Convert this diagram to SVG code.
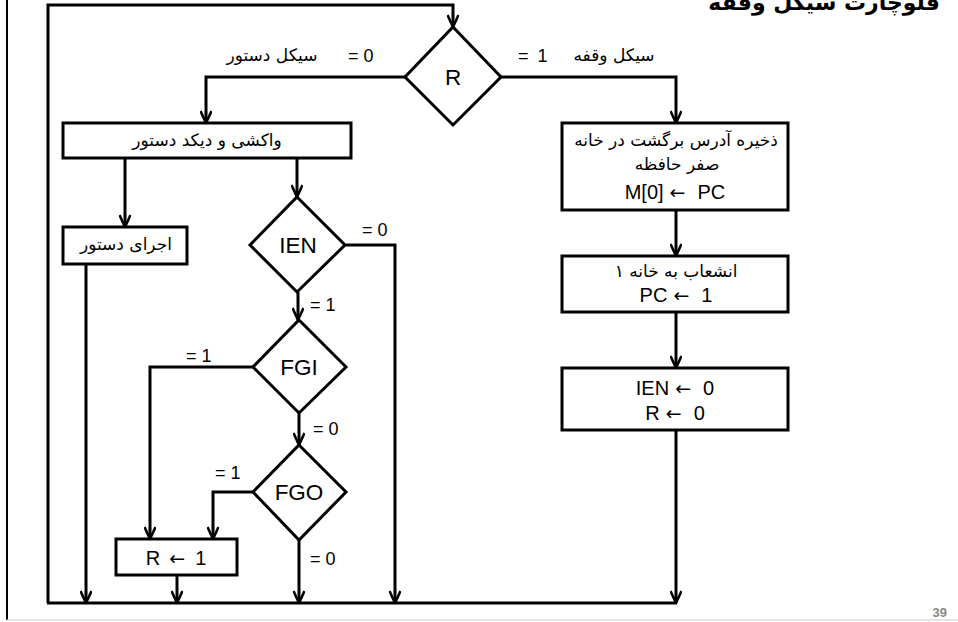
<svg xmlns="http://www.w3.org/2000/svg" width="958" height="622" viewBox="0 0 958 622">
<style>
.ln{fill:none;stroke:#000;stroke-width:3;stroke-linejoin:miter}
.ar{marker-end:url(#arr)}
.bx{fill:#fff;stroke:#000;stroke-width:3}
.t{font-family:"Liberation Sans","DejaVu Sans",sans-serif;fill:#000;text-anchor:middle}
.fa{font-family:"DejaVu Sans","Liberation Sans",sans-serif;fill:#000;text-anchor:middle;font-size:17px}
.lb{font-family:"Liberation Sans",sans-serif;font-size:18px;fill:#000}
.dg{font-size:22.5px}
.bt{font-size:20px}
.aw{font-family:"DejaVu Sans",sans-serif;font-size:19px}
</style>
<defs>
<marker id="arr" viewBox="0 0 14 12" refX="13" refY="6" markerWidth="14" markerHeight="12" markerUnits="userSpaceOnUse" orient="auto">
<path d="M1,0.5 L13,6 L1,11.5" fill="none" stroke="#000" stroke-width="2.6"/>
</marker>
</defs>
<rect width="958" height="622" fill="#fff"/>
<g id="frame">
<line x1="7" y1="0" x2="7" y2="620" stroke="#000" stroke-width="2"/>
<line x1="7" y1="620" x2="958" y2="620" stroke="#ddd" stroke-width="1.5"/>
<text x="940" y="10" font-family="DejaVu Sans,sans-serif" font-weight="bold" font-size="22" text-anchor="end">فلوچارت سیکل وقفه</text>
<text x="947" y="617" font-family="Liberation Sans,sans-serif" font-weight="bold" font-size="13" fill="#888" text-anchor="end">39</text>
</g>
<g id="connectors">
<path class="ln ar" d="M48,603 V5 H453 V27"/>
<path class="ln ar" d="M405,77 H206 V123"/>
<path class="ln ar" d="M500,77 H676 V123"/>
<path class="ln ar" d="M676,210 V256"/>
<path class="ln ar" d="M676,312 V368"/>
<path class="ln ar" d="M676,430 V603"/>
<path class="ln ar" d="M125,158 V227"/>
<path class="ln ar" d="M86,264 V603"/>
<path class="ln ar" d="M297,158 V197"/>
<path class="ln ar" d="M346,245 H395 V603"/>
<path class="ln ar" d="M298,292 V320"/>
<path class="ln ar" d="M253,367 H150 V539"/>
<path class="ln ar" d="M299,413 V445"/>
<path class="ln ar" d="M253,492 H213 V539"/>
<path class="ln ar" d="M299,540 V603"/>
<path class="ln ar" d="M177,575 V603"/>
<path class="ln" d="M47,603 H677"/>
<text class="lb" x="348" y="62">= 0</text>
<text class="fa" x="272" y="61">سیکل دستور</text>
<text class="lb" x="518" y="62">=<tspan dx="9">1</tspan></text>
<text class="fa" x="614" y="61">سیکل وقفه</text>
<text class="lb" x="362" y="236">= 0</text>
<text class="lb" x="310" y="311">= 1</text>
<text class="lb" x="186" y="362">= 1</text>
<text class="lb" x="313" y="435">= 0</text>
<text class="lb" x="215" y="479">= 1</text>
<text class="lb" x="310" y="565">= 0</text>
</g>
<g id="R">
<polygon class="bx" points="453,27 501,77 453,125 405,77"/>
<text class="t dg" x="453" y="85">R</text>
</g>
<g id="fetch">
<rect class="bx" x="63" y="123" width="288" height="35"/>
<text class="fa" x="207" y="146">واکشی و دیکد دستور</text>
</g>
<g id="exec">
<rect class="bx" x="63" y="227" width="124" height="37"/>
<text class="fa" x="126" y="250">اجرای دستور</text>
</g>
<g id="IEN">
<polygon class="bx" points="297,197 345,245 297,292 250,245"/>
<text class="t dg" x="298" y="253">IEN</text>
</g>
<g id="FGI">
<polygon class="bx" points="299,320 346,367 299,413 253,367"/>
<text class="t dg" x="299" y="375">FGI</text>
</g>
<g id="FGO">
<polygon class="bx" points="299,445 346,492 299,540 253,492"/>
<text class="t dg" x="299" y="500">FGO</text>
</g>
<g id="R1">
<rect class="bx" x="116" y="539" width="121" height="36"/>
<text class="t bt" x="176" y="565">R<tspan class="aw" dx="9">←</tspan><tspan dx="10">1</tspan></text>
</g>
<g id="save">
<rect class="bx" x="562" y="123" width="226" height="87"/>
<text class="fa" x="676" y="146">ذخیره آدرس برگشت در خانه</text>
<text class="fa" x="677" y="170">صفر حافظه</text>
<text class="t bt" x="675" y="199">M[0]<tspan class="aw" dx="6">←</tspan><tspan dx="12">PC</tspan></text>
</g>
<g id="branch">
<rect class="bx" x="562" y="256" width="226" height="56"/>
<text class="fa" x="676" y="277">انشعاب به خانه ۱</text>
<text class="t bt" x="676" y="302">PC<tspan class="aw" dx="6">←</tspan><tspan dx="12">1</tspan></text>
</g>
<g id="reset">
<rect class="bx" x="562" y="368" width="226" height="62"/>
<text class="t bt" x="675" y="395">IEN<tspan class="aw" dx="6">←</tspan><tspan dx="12">0</tspan></text>
<text class="t bt" x="675" y="420">R<tspan class="aw" dx="6">←</tspan><tspan dx="12">0</tspan></text>
</g>
</svg>
